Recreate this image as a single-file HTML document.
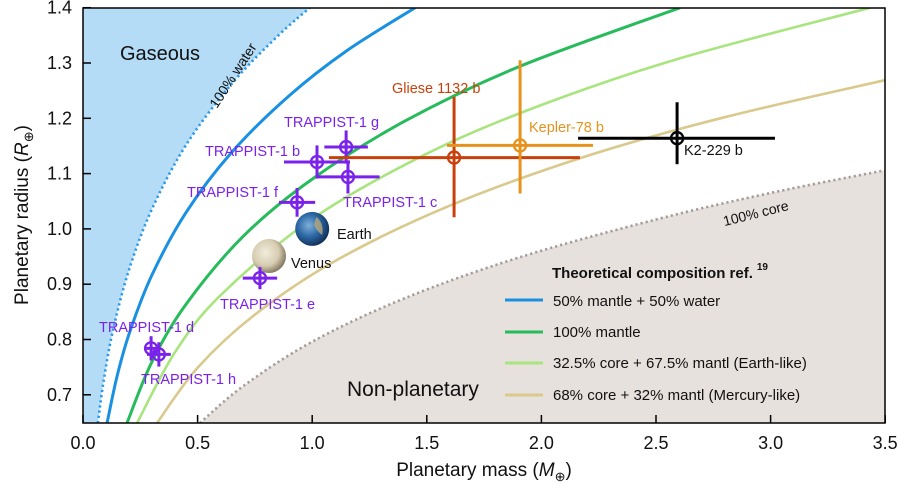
<!DOCTYPE html>
<html><head><meta charset="utf-8"><style>
html,body{margin:0;padding:0;background:#fff;}
svg{display:block;font-family:"Liberation Sans",Arial,sans-serif;}
</style></head><body>
<svg id="chart" width="900" height="492" viewBox="0 0 900 492" xmlns="http://www.w3.org/2000/svg">
<defs>
<clipPath id="plotclip"><rect x="83" y="8" width="802" height="415"/></clipPath>
<radialGradient id="earthg" cx="40%" cy="40%" r="65%"><stop offset="0" stop-color="#7fb0d8"/><stop offset="0.5" stop-color="#2e6aa8"/><stop offset="1" stop-color="#0f2a50"/></radialGradient>
<radialGradient id="venusg" cx="40%" cy="40%" r="65%"><stop offset="0" stop-color="#f1ecdc"/><stop offset="0.6" stop-color="#d6ccb0"/><stop offset="1" stop-color="#7a6e58"/></radialGradient>
</defs>
<g id="regions" clip-path="url(#plotclip)"></g>
<g id="curves" clip-path="url(#plotclip)"></g>
<g id="points"></g>
<g id="axes"></g>
<g id="texts"></g>
</svg>
<script>
// ---- data (mass in Earth masses, radius in Earth radii) ----
const waterM = [0.065,0.09,0.13,0.2,0.3,0.45,0.65,0.85,0.99];
const waterR = [0.649,0.725,0.815,0.925,1.035,1.152,1.263,1.349,1.400];
const halfWaterM = [0.105,0.15,0.205,0.3,0.45,0.65,0.9,1.15,1.449];
const halfWaterR = [0.649,0.736,0.815,0.916,1.030,1.139,1.241,1.322,1.400];
const mantleM = [0.192,0.3,0.45,0.7,1.0,1.4,1.9,2.605];
const mantleR = [0.649,0.759,0.864,0.987,1.090,1.194,1.293,1.400];
const earthM = [0.236,0.4,0.6,1.0,1.5,2.0,2.6,3.434];
const earthR = [0.649,0.776,0.880,1.018,1.136,1.224,1.308,1.400];
const mercM = [0.323,0.5,0.75,1.1,1.6,2.2,2.8,3.499];
const mercR = [0.649,0.749,0.845,0.942,1.042,1.132,1.202,1.269];
const coreM = [0.510,0.7,1.0,1.4,1.9,2.5,3.0,3.499];
const coreR = [0.649,0.716,0.796,0.874,0.948,1.017,1.065,1.106];

const planetNames = ["TRAPPIST-1 d","TRAPPIST-1 h","TRAPPIST-1 e","TRAPPIST-1 f","TRAPPIST-1 b","TRAPPIST-1 g","TRAPPIST-1 c","Gliese 1132 b","Kepler-78 b","K2-229 b"];
const planetMass = [0.297,0.331,0.772,0.934,1.021,1.148,1.156,1.619,1.907,2.592];
const planetRadius = [0.784,0.773,0.911,1.048,1.121,1.148,1.094,1.129,1.151,1.164];
const massLo = [0.03,0.052,0.075,0.079,0.144,0.095,0.138,0.546,0.319,0.432];
const massHi = [0.03,0.052,0.075,0.079,0.144,0.095,0.138,0.549,0.318,0.427];
const radLo = [0.022,0.022,0.02,0.026,0.03,0.03,0.03,0.108,0.087,0.047];
const radHi = [0.022,0.022,0.02,0.026,0.03,0.03,0.03,0.110,0.154,0.065];
const xTicks = [0.0,0.5,1.0,1.5,2.0,2.5,3.0,3.5];
const yTicks = [0.7,0.8,0.9,1.0,1.1,1.2,1.3,1.4];

const X = m => 83 + 229.2*m;
const Y = r => 7.7 + (1.4-r)*553;
const NS = "http://www.w3.org/2000/svg";
function mk(tag, attrs, parent){const e=document.createElementNS(NS,tag);for(const k in attrs)e.setAttribute(k,attrs[k]);parent.appendChild(e);return e;}
function smooth(ms, rs){
  const p = ms.map((m,i)=>[X(m),Y(rs[i])]);
  const n=p.length;
  let d = `M${p[0][0]},${p[0][1]}`;
  for(let i=0;i<n-1;i++){
    const p0=p[Math.max(0,i-1)],p1=p[i],p2=p[i+1],p3=p[Math.min(n-1,i+2)];
    const c1=[p1[0]+(p2[0]-p0[0])/6,p1[1]+(p2[1]-p0[1])/6];
    const c2=[p2[0]-(p3[0]-p1[0])/6,p2[1]-(p3[1]-p1[1])/6];
    d+=` C${c1[0]},${c1[1]} ${c2[0]},${c2[1]} ${p2[0]},${p2[1]}`;
  }
  return d;
}
const regions=document.getElementById('regions');
const curves=document.getElementById('curves');
const points=document.getElementById('points');
const axes=document.getElementById('axes');

let gas = mk('path',{d: smooth(waterM,waterR)+` L${X(waterM[waterM.length-1])},0 L83,0 L83,430 L${X(waterM[0])},430 Z`, fill:'#b5dcf6'},regions);


let np = mk('path',{d: smooth(coreM,coreR)+` L890,${Y(coreR[coreR.length-1])} L890,430 L${X(coreM[0])},430 Z`, fill:'#e7e1de'},regions);



const curveDefs=[
 [waterM,waterR,'#2a98e6','2.6','2.2 3','water-100-curve'],
 [halfWaterM,halfWaterR,'#1a90e2','3',null,'mantle-water-curve'],
 [mantleM,mantleR,'#27bb5c','3',null,'mantle-100-curve'],
 [earthM,earthR,'#a8e57e','2.6',null,'earth-like-curve'],
 [mercM,mercR,'#d9c98c','2.6',null,'mercury-like-curve'],
 [coreM,coreR,'#a59c9a','2.6','2.2 3','core-100-curve']];
curveDefs.forEach(c=>{
  const e=mk('path',{d:smooth(c[0],c[1]),fill:'none',stroke:c[2],'stroke-width':c[3]},curves);
  if(c[4])e.setAttribute('stroke-dasharray',c[4]);
  
  
});

let earth=mk('circle',{cx:X(1.0),cy:Y(1.0),r:17,fill:'url(#earthg)'},points);


mk('path',{d:`M${X(1.0)+4},${Y(1.0)-12} q8,6 6,18 q-6,-4 -8,-10z`,fill:'#b8a77a',opacity:0.8},points);
let venus=mk('circle',{cx:269,cy:256,r:17,fill:'url(#venusg)'},points);



const pColors=['#7a22ea','#7a22ea','#7a22ea','#7a22ea','#7a22ea','#7a22ea','#7a22ea','#c8410c','#e8921e','#000'];
planetNames.forEach((n,i)=>{
  const g=mk('g',{},points);
  
  
  const cx=X(planetMass[i]),cy=Y(planetRadius[i]),col=pColors[i];
  mk('line',{x1:X(planetMass[i]-massLo[i]),x2:X(planetMass[i]+massHi[i]),y1:cy,y2:cy,stroke:col,'stroke-width':3},g);
  mk('line',{x1:cx,x2:cx,y1:Y(planetRadius[i]-radLo[i]),y2:Y(planetRadius[i]+radHi[i]),stroke:col,'stroke-width':3},g);
  mk('circle',{cx:cx,cy:cy,r:6,fill:'none',stroke:col,'stroke-width':2.3},g);
});

let frame=mk('rect',{x:83,y:8,width:802,height:415,fill:'none',stroke:'#000','stroke-width':1.5},axes);


xTicks.forEach(t=>{
  mk('line',{x1:X(t),x2:X(t),y1:423,y2:415,stroke:'#000','stroke-width':1.5},axes);
  const e=mk('text',{x:X(t),y:449,'text-anchor':'middle','font-size':18,fill:'#111'},axes);
  e.textContent=t.toFixed(1);
  
  
});
yTicks.forEach(t=>{
  mk('line',{x1:83,x2:91,y1:Y(t),y2:Y(t),stroke:'#000','stroke-width':1.5},axes);
  const e=mk('text',{x:72,y:Y(t)+6,'text-anchor':'end','font-size':18,fill:'#111'},axes);
  e.textContent=t.toFixed(1);
  
  
});
</script>
<svg style="position:absolute;left:0;top:0" width="900" height="492" viewBox="0 0 900 492" xmlns="http://www.w3.org/2000/svg" font-family="Liberation Sans, Arial, sans-serif">
<text x="484" y="476" text-anchor="middle" font-size="19" fill="#111">Planetary mass (<tspan font-style="italic">M</tspan><tspan font-size="13" dy="5">⊕</tspan><tspan dy="-5">)</tspan></text>
<text transform="translate(28,215) rotate(-90)" text-anchor="middle" font-size="19" fill="#111">Planetary radius (<tspan font-style="italic">R</tspan><tspan font-size="13" dy="5">⊕</tspan><tspan dy="-5">)</tspan></text>
<text x="120" y="60" font-size="20" fill="#111">Gaseous</text>
<text x="347" y="396" font-size="21" fill="#111">Non-planetary</text>
<text transform="translate(237,78) rotate(-57)" text-anchor="middle" font-size="14" fill="#111">100% water</text>
<text transform="translate(757,218) rotate(-14)" text-anchor="middle" font-size="14" fill="#111">100% core</text>
<g font-size="14.5" fill="#7a22ea">
<text x="284" y="127">TRAPPIST-1 g</text>
<text x="205" y="156">TRAPPIST-1 b</text>
<text x="187" y="197">TRAPPIST-1 f</text>
<text x="343" y="207">TRAPPIST-1 c</text>
<text x="220" y="309">TRAPPIST-1 e</text>
<text x="99" y="332">TRAPPIST-1 d</text>
<text x="141" y="384">TRAPPIST-1 h</text>
</g>
<text x="337" y="239" font-size="14.5" fill="#111">Earth</text>
<text x="291" y="268" font-size="14.5" fill="#111">Venus</text>
<text x="392" y="93" font-size="14.5" fill="#c8410c">Gliese 1132 b</text>
<text x="529" y="132" font-size="14.5" fill="#e8921e">Kepler-78 b</text>
<text x="684" y="155" font-size="14.5" fill="#111">K2-229 b</text>
<g>
<text x="552" y="278" font-size="15" font-weight="bold" fill="#111">Theoretical composition ref.<tspan font-size="10" dx="4" dy="-8">19</tspan></text>
<line x1="505" x2="543" y1="300" y2="300" stroke="#1a90e2" stroke-width="3"/>
<text x="553" y="306" font-size="15" fill="#111">50% mantle + 50% water</text>
<line x1="505" x2="543" y1="332" y2="332" stroke="#27bb5c" stroke-width="3"/>
<text x="553" y="337" font-size="15" fill="#111">100% mantle</text>
<line x1="505" x2="543" y1="363" y2="363" stroke="#a8e57e" stroke-width="3"/>
<text x="553" y="368" font-size="15" fill="#111">32.5% core + 67.5% mantl (Earth-like)</text>
<line x1="505" x2="543" y1="395" y2="395" stroke="#d9c98c" stroke-width="3"/>
<text x="553" y="400" font-size="15" fill="#111">68% core + 32% mantl (Mercury-like)</text>
</g>
</svg>
</body></html>
